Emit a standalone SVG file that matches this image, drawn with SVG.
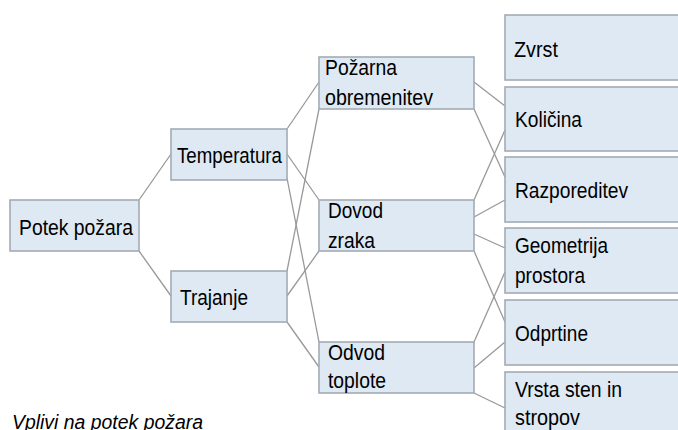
<svg xmlns="http://www.w3.org/2000/svg" width="678" height="430" viewBox="0 0 678 430">
<style>
.box{fill:#DEE9F3;stroke:#A3ABB3;stroke-width:1.6}
.lbl{font-family:"Liberation Sans",Arial,sans-serif;font-size:22.5px;fill:#000}
.cap{font-family:"Liberation Sans",Arial,sans-serif;font-size:20px;font-style:italic;fill:#000}
.ln{stroke:#999;stroke-width:1.3;fill:none}
</style>
<rect width="678" height="430" fill="#fff"/>
<g id="connectors">
<line class="ln" x1="139" y1="200" x2="171" y2="154"/>
<line class="ln" x1="139" y1="251" x2="171" y2="296"/>
<line class="ln" x1="287" y1="129" x2="319" y2="82"/>
<line class="ln" x1="287" y1="154" x2="319" y2="200"/>
<line class="ln" x1="287" y1="178" x2="319" y2="342"/>
<line class="ln" x1="287" y1="271" x2="319" y2="109"/>
<line class="ln" x1="287" y1="296" x2="319" y2="251"/>
<line class="ln" x1="287" y1="322" x2="319" y2="367"/>
<line class="ln" x1="474" y1="82" x2="505" y2="106"/>
<line class="ln" x1="474" y1="109" x2="505" y2="177"/>
<line class="ln" x1="474" y1="200" x2="505" y2="130"/>
<line class="ln" x1="474" y1="217" x2="505" y2="200"/>
<line class="ln" x1="474" y1="234" x2="505" y2="248"/>
<line class="ln" x1="474" y1="251" x2="505" y2="322"/>
<line class="ln" x1="474" y1="342" x2="505" y2="272"/>
<line class="ln" x1="474" y1="368" x2="505" y2="342"/>
<line class="ln" x1="474" y1="393" x2="505" y2="408"/>
</g>
<g id="potek"><rect class="box" x="10" y="200" width="129" height="51"/><text class="lbl" x="19" y="235" textLength="114" lengthAdjust="spacingAndGlyphs">Potek požara</text></g>
<g id="temperatura"><rect class="box" x="171" y="129" width="116" height="51"/><text class="lbl" x="177" y="163" textLength="105" lengthAdjust="spacingAndGlyphs">Temperatura</text></g>
<g id="trajanje"><rect class="box" x="171" y="271" width="116" height="51"/><text class="lbl" x="180" y="305" textLength="68" lengthAdjust="spacingAndGlyphs">Trajanje</text></g>
<g id="pozarna"><rect class="box" x="319" y="57" width="155" height="52"/><text class="lbl" x="325" y="75" textLength="72" lengthAdjust="spacingAndGlyphs">Požarna</text><text class="lbl" x="325" y="105" textLength="108" lengthAdjust="spacingAndGlyphs">obremenitev</text></g>
<g id="dovod"><rect class="box" x="319" y="200" width="155" height="51"/><text class="lbl" x="328" y="218" textLength="55" lengthAdjust="spacingAndGlyphs">Dovod</text><text class="lbl" x="328" y="248" textLength="47" lengthAdjust="spacingAndGlyphs">zraka</text></g>
<g id="odvod"><rect class="box" x="319" y="342" width="155" height="51"/><text class="lbl" x="328" y="360" textLength="57" lengthAdjust="spacingAndGlyphs">Odvod</text><text class="lbl" x="328" y="388" textLength="58" lengthAdjust="spacingAndGlyphs">toplote</text></g>
<g id="zvrst"><rect class="box" x="505" y="15" width="200" height="65"/><text class="lbl" x="514" y="57" textLength="44" lengthAdjust="spacingAndGlyphs">Zvrst</text></g>
<g id="kolicina"><rect class="box" x="505" y="87" width="200" height="64"/><text class="lbl" x="515" y="127" textLength="67" lengthAdjust="spacingAndGlyphs">Količina</text></g>
<g id="razporeditev"><rect class="box" x="505" y="157" width="200" height="65"/><text class="lbl" x="515" y="198" textLength="113" lengthAdjust="spacingAndGlyphs">Razporeditev</text></g>
<g id="geometrija"><rect class="box" x="505" y="228" width="200" height="65"/><text class="lbl" x="515" y="253" textLength="93" lengthAdjust="spacingAndGlyphs">Geometrija</text><text class="lbl" x="515" y="283" textLength="70" lengthAdjust="spacingAndGlyphs">prostora</text></g>
<g id="odprtine"><rect class="box" x="505" y="300" width="200" height="65"/><text class="lbl" x="515" y="341" textLength="73" lengthAdjust="spacingAndGlyphs">Odprtine</text></g>
<g id="vrsta"><rect class="box" x="505" y="372" width="200" height="80"/><text class="lbl" x="515" y="397" textLength="107" lengthAdjust="spacingAndGlyphs">Vrsta sten in</text><text class="lbl" x="515" y="425" textLength="65" lengthAdjust="spacingAndGlyphs">stropov</text></g>
<text class="cap" x="12" y="429" textLength="191" lengthAdjust="spacingAndGlyphs">Vplivi na potek požara</text>
</svg>
